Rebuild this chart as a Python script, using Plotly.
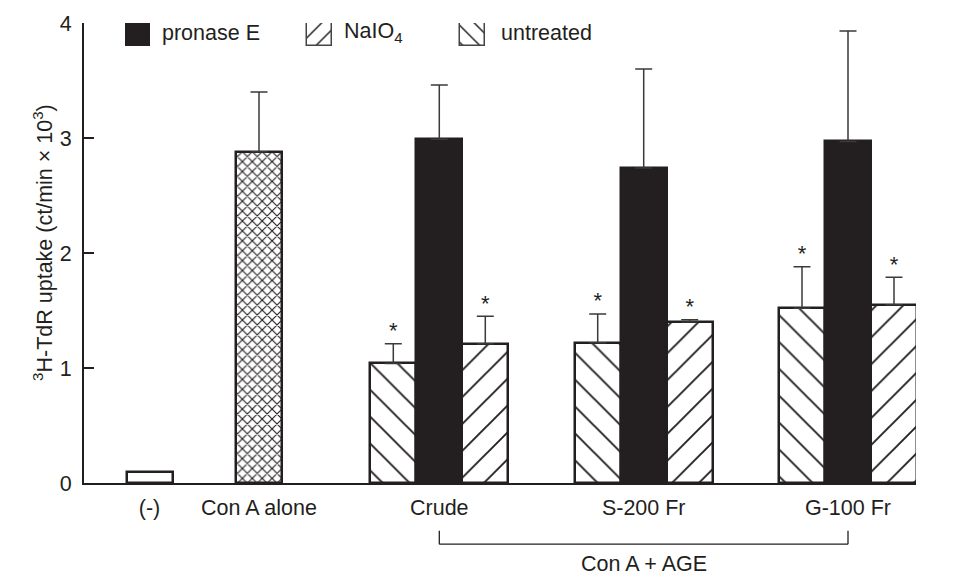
import plotly.graph_objects as go

# ---- data -------------------------------------------------------------
groups = ["(-)", "Con A alone", "Crude", "S-200 Fr", "G-100 Fr"]
group_pos = [65.5, 175, 355.3, 559.7, 764]      # horizontal slot of each group

control_vals = [0.10, 2.88]                      # (-), Con A alone
control_sd = [0.0, 0.52]

untreated = [1.04, 1.22, 1.52]                   # Crude, S-200 Fr, G-100 Fr
untreated_sd = [0.17, 0.25, 0.36]
pronase = [2.99, 2.74, 2.97]
pronase_sd = [0.47, 0.86, 0.96]
naio4 = [1.21, 1.40, 1.55]
naio4_sd = [0.24, 0.02, 0.24]

y_ticks = [0, 1, 2, 3, 4]

# ---- style ------------------------------------------------------------
INK = "#231f20"
FONT = "Liberation Sans, Arial, Helvetica, sans-serif"
FS = 21.5
BAR_W = 46
STEP = 46
PLOT_H = 468   # plot area height in px (used for the overlay legend axis)

age_pos = group_pos[2:]


def err(sd):
    return dict(type="data", symmetric=False, array=sd, arrayminus=[0] * len(sd),
                color="#3a3a3a", thickness=1.5, width=8.5)


def hatch(shape, size=19, solidity=0.1):
    return dict(shape=shape, size=size, solidity=solidity, fgopacity=1,
                fgcolor=INK, bgcolor="white", fillmode="overlay")


fig = go.Figure()

# (-) control
fig.add_trace(go.Bar(
    x=[group_pos[0]], y=[control_vals[0]], width=BAR_W,
    marker=dict(color="white", line=dict(color=INK, width=2.5)),
    showlegend=False,
))
# Con A alone, cross-hatched
fig.add_trace(go.Bar(
    x=[group_pos[1]], y=[control_vals[1]], width=BAR_W,
    marker=dict(color="white", line=dict(color=INK, width=2.5),
                pattern=hatch("x", size=7, solidity=0.3)),
    error_y=err([control_sd[1]]),
    showlegend=False,
))

# Con A + AGE groups
series = [
    ("untreated", untreated, untreated_sd, -STEP, "\\"),
    ("pronase E", pronase, pronase_sd, 0, None),
    ("NaIO4", naio4, naio4_sd, STEP, "/"),
]
for name, vals, sd, off, pat in series:
    xs = [p + off for p in age_pos]
    if pat is None:
        marker = dict(color=INK, line=dict(color=INK, width=2.5))
    else:
        marker = dict(color="white", line=dict(color=INK, width=2.5), pattern=hatch(pat))
    fig.add_trace(go.Bar(x=xs, y=vals, width=BAR_W, marker=marker,
                         error_y=err(sd), name=name, showlegend=False))
    if pat is not None:
        # significance marks sitting on top of each error bar
        fig.add_trace(go.Scatter(
            x=xs, y=[v + s for v, s in zip(vals, sd)], mode="text",
            text=["*"] * len(xs), textposition="top center",
            textfont=dict(family=FONT, size=22, color=INK),
            showlegend=False, hoverinfo="skip", cliponaxis=False,
        ))

# ---- legend swatches drawn on an overlay axis measured in px from the bottom
legend_items = [
    ("pronase E", 53, None, 76),
    ("NaIO<sub>4</sub>", 235.5, "/", 258),
    ("untreated", 388, "\\", 415),
]
for label, cx, pat, tx in legend_items:
    if pat is None:
        marker = dict(color=INK, line=dict(color=INK, width=0))
    else:
        marker = dict(color="white", line=dict(color="#444444", width=1.5),
                      pattern=hatch(pat, size=12, solidity=0.12))
    fig.add_trace(go.Bar(x=[cx], y=[23], base=[PLOT_H - 23], width=25,
                         marker=marker, yaxis="y2", showlegend=False,
                         hoverinfo="skip"))
    fig.add_annotation(x=tx, y=PLOT_H - 10, xref="x", yref="y2", text=label,
                       showarrow=False, xanchor="left", yanchor="middle",
                       font=dict(family=FONT, size=FS, color=INK))

# ---- "Con A + AGE" bracket under the grouped categories
for x0, x1, y0, y1 in [(age_pos[0], age_pos[0], -0.104, -0.133),
                       (age_pos[-1], age_pos[-1], -0.104, -0.133),
                       (age_pos[0], age_pos[-1], -0.133, -0.133)]:
    fig.add_shape(type="line", xref="x", yref="paper",
                  x0=x0, x1=x1, y0=y0, y1=y1, line=dict(color=INK, width=1.3))
fig.add_annotation(x=age_pos[1], y=-0.177, xref="x", yref="paper",
                   text="Con A + AGE", showarrow=False, yanchor="middle",
                   font=dict(family=FONT, size=FS, color=INK))

# y-axis title
fig.add_annotation(x=-0.0685, y=0.522, xref="paper", yref="paper",
                   text="<sup>3</sup>H-TdR uptake (ct/min × 10<sup>3</sup>)",
                   textangle=-90, showarrow=False,
                   font=dict(family=FONT, size=FS, color=INK))

fig.update_layout(
    width=957, height=578,
    margin=dict(l=84, r=41, t=15, b=95),
    plot_bgcolor="white", paper_bgcolor="white",
    barmode="overlay", bargap=0,
    font=dict(family=FONT, size=FS, color=INK),
    xaxis=dict(range=[0, 832], tickmode="array", tickvals=group_pos, ticktext=groups,
               showline=True, linecolor=INK, linewidth=2, ticks="",
               showgrid=False, zeroline=False, ticklabelstandoff=4,
               tickfont=dict(family=FONT, size=FS, color=INK)),
    yaxis=dict(range=[0, 4], tickvals=y_ticks, showline=True, linecolor=INK,
               linewidth=2, ticks="inside", ticklen=10, tickwidth=1.5, tickcolor=INK,
               showgrid=False, zeroline=False, ticklabelstandoff=6,
               tickfont=dict(family=FONT, size=FS, color=INK)),
    yaxis2=dict(overlaying="y", range=[0, PLOT_H], visible=False, fixedrange=True),
)

fig.write_html("out.html")
